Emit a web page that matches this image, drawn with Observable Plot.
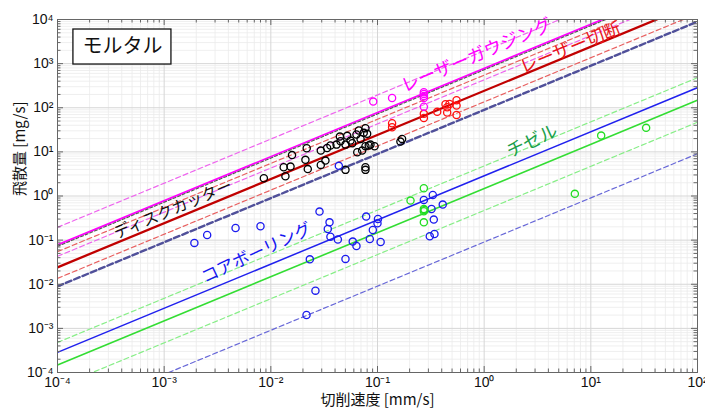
<!DOCTYPE html>
<html><head><meta charset="utf-8">
<script src="https://cdn.jsdelivr.net/npm/d3@7"></script>
<script src="https://cdn.jsdelivr.net/npm/@observablehq/plot@0.6"></script>
<style>
body{margin:0;background:#fff;}
#chart svg{font-family:"Liberation Sans","Noto Sans CJK JP",sans-serif;}
</style>
</head><body><div id="chart"></div>
<script>
// ---- axes ----
const xTicks = [1e-4, 1e-3, 1e-2, 1e-1, 1e0, 1e1, 1e2];
const xTickLabels = ["10⁻⁴", "10⁻³", "10⁻²", "10⁻¹", "10⁰", "10¹", "10²"];
const yTicks = [1e-4, 1e-3, 1e-2, 1e-1, 1e0, 1e1, 1e2, 1e3, 1e4];
const yTickLabels = ["10⁻⁴", "10⁻³", "10⁻²", "10⁻¹", "10⁰", "10¹", "10²", "10³", "10⁴"];
const xLabel = "切削速度 [mm/s]";
const yLabel = "飛散量 [mg/s]";
const panelTitle = "モルタル";

// ---- data (cutting speed [mm/s], scatter amount [mg/s]) ----
const diskX = [0.0086,0.0137,0.0132,0.0153,0.0158,0.0211,0.0222,0.0217,0.0294,0.0325,0.0294,0.0337,0.0362,0.0413,0.0444,0.0450,0.0501,0.0520,0.0559,0.0580,0.0501,0.0646,0.0635,0.0694,0.0771,0.0800,0.0718,0.0771,0.0828,0.0938,0.0771,0.0771,0.0668,0.0743,0.0859,0.170,0.164];
const diskY = [2.52,2.80,4.48,4.64,8.45,6.59,4.07,12.1,5.07,6.35,10.7,12.2,13.9,14.6,22.2,17.4,14.6,23.1,18.0,15.7,3.91,9.80,24.7,19.7,34.3,25.6,10.7,13.4,13.9,13.4,4.48,3.91,30.4,27.0,14.6,19.7,17.1];

const cuttingX = [0.137,0.137,0.272,0.272,0.363,0.450,0.450,0.434,0.473,0.551,0.551,0.551];
const cuttingY = [44.6,36.1,72.8,58.4,80.7,103,77.8,120,122,148,112,68.3];

const gaugingX = [0.0912,0.137,0.272,0.272,0.272,0.272,0.272];
const gaugingY = [138,166,225,205,184,166,106];

const coreX = [0.00192,0.00253,0.00467,0.0080,0.0286,0.0355,0.0342,0.0362,0.0425,0.0232,0.0262,0.0216,0.0501,0.0586,0.0635,0.0783,0.0904,0.0847,0.101,0.100,0.107,0.272,0.330,0.409,0.321,0.337,0.342,0.309,0.0434];
const coreY = [0.0865,0.131,0.189,0.206,0.443,0.253,0.179,0.120,0.103,0.0367,0.00716,0.00201,0.0375,0.0925,0.0738,0.341,0.170,0.106,0.303,0.240,0.091,0.816,1.06,0.638,0.509,0.292,0.138,0.122,4.82];

const chiselX = [0.272,0.204,0.272,0.272,0.276,0.272,12.5,33.0,7.08];
const chiselY = [1.50,0.787,0.509,0.450,0.48,0.253,23.4,35.0,1.12];

// ---- fit / bound lines: value at x=1e-4 and at x=1e2 ----
const lineNames = ["gaugingUpper","gaugingFit","diskFit","cuttingUpper","gaugingLower","cuttingFit","cuttingLower","coreUpper","chiselUpper","coreFit","chiselFit","chiselLower","coreLower"];
const lineYStart = [0.195,0.0778,0.0723,0.0548,0.043,0.0242,0.0136,0.00895,4.8e-4,2.86e-4,1.48e-4,4.7e-5,9.06e-6];
const lineYEnd = [1.95e5,7.78e4,7.23e4,5.48e4,4.3e4,2.42e4,1.36e4,8950,480,286,148,47,9.06];
const lineXStart = 1e-4, lineXEnd = 1e2;

// ---- in-plot labels ----
const labelText = ["レーザーガウジング","レーザー切断","ディスクカッター","コアボーリング","チゼル"];
const labelX = [0.85, 6.44, 1.21e-3, 7.35e-3, 2.82];
const labelY = [1527, 2260, 0.492, 0.0507, 17.3];

// panel title box (data coords)
const boxX = [1.41e-4, 1.17e-3];
const boxY = [954, 5929];

// ---- styles ----
const lineStyle = {
  gaugingUpper: {stroke:"#ee66ee", strokeWidth:1.2, strokeDasharray:"5,3"},
  gaugingFit:   {stroke:"#ff00ff", strokeWidth:1.8},
  diskFit:      {stroke:"#555555", strokeWidth:1.1, strokeDasharray:"3,2"},
  cuttingUpper: {stroke:"#e86060", strokeWidth:1.2, strokeDasharray:"5,3"},
  gaugingLower: {stroke:"#ee66ee", strokeWidth:1.2, strokeDasharray:"5,3"},
  cuttingFit:   {stroke:"#c00000", strokeWidth:2.3},
  cuttingLower: {stroke:"#e86060", strokeWidth:1.2, strokeDasharray:"5,3"},
  coreUpper:    {stroke:"#50509a", strokeWidth:2.4, strokeDasharray:"6,3"},
  chiselUpper:  {stroke:"#88ee88", strokeWidth:1.2, strokeDasharray:"5,3"},
  coreFit:      {stroke:"#2020ee", strokeWidth:1.5},
  chiselFit:    {stroke:"#33dd33", strokeWidth:1.6},
  chiselLower:  {stroke:"#88ee88", strokeWidth:1.2, strokeDasharray:"5,3"},
  coreLower:    {stroke:"#6868d8", strokeWidth:1.2, strokeDasharray:"5,3"}
};
const labelColor = ["#ff00ff","#e8141b","#111111","#1515f0","#1aa04a"];
const labelSize = [18, 18, 16, 17, 18];
const labelRotate = [-23, -22, -23, -25, -25];

const W = 705, H = 410, mL = 57, mR = 8, mT = 19, mB = 38;
const innerH = H - mT - mB, innerW = W - mL - mR;

const minor = (lo, hi) => {
  const out = [];
  for (let e = lo; e < hi; e++) for (let m = 2; m <= 9; m++) out.push(m * Math.pow(10, e));
  return out;
};
const xMinor = minor(-4, 2), yMinor = minor(-4, 4);

const pts = (xs, ys) => xs.map((x, i) => ({x, y: ys[i]}));

const marks = [];
// grid
marks.push(Plot.gridX(xMinor, {stroke:"#ebebeb", strokeOpacity:1, strokeWidth:0.8}));
marks.push(Plot.gridY(yMinor, {stroke:"#ebebeb", strokeOpacity:1, strokeWidth:0.8}));
marks.push(Plot.gridX(xTicks, {stroke:"#d6d6d6", strokeOpacity:1, strokeWidth:1}));
marks.push(Plot.gridY(yTicks, {stroke:"#d6d6d6", strokeOpacity:1, strokeWidth:1}));

// lines
lineNames.forEach((n, i) => {
  marks.push(Plot.line([{x: lineXStart, y: lineYStart[i]}, {x: lineXEnd, y: lineYEnd[i]}],
    {x:"x", y:"y", clip:true, ...lineStyle[n]}));
});

// points
const dotOpts = c => ({x:"x", y:"y", r:3.6, stroke:c, strokeWidth:1.3, fill:"none", clip:true});
marks.push(Plot.dot(pts(diskX, diskY), dotOpts("#000000")));
marks.push(Plot.dot(pts(cuttingX, cuttingY), dotOpts("#ff1010")));
marks.push(Plot.dot(pts(gaugingX, gaugingY), dotOpts("#ff00ff")));
marks.push(Plot.dot(pts(coreX, coreY), dotOpts("#1a1aee")));
marks.push(Plot.dot(pts(chiselX, chiselY), dotOpts("#22dd22")));

// in-plot labels
labelText.forEach((t, i) => {
  marks.push(Plot.text([t], {x: () => labelX[i], y: () => labelY[i], text: d => d,
    rotate: labelRotate[i], fill: labelColor[i], fontSize: labelSize[i],
    fontFamily: "Noto Sans CJK JP"}));
});

// title box
marks.push(Plot.rect([0], {x1: () => boxX[0], x2: () => boxX[1], y1: () => boxY[0], y2: () => boxY[1],
  fill:"#fff", stroke:"#111", strokeWidth:1.3}));
marks.push(Plot.text([panelTitle], {x: () => Math.sqrt(boxX[0]*boxX[1]), y: () => Math.sqrt(boxY[0]*boxY[1]),
  text: d => d, fontSize: 20, fill:"#111", fontFamily:"Noto Sans CJK JP"}));

// inward ticks on all four sides
const tk = "#666";
marks.push(Plot.tickX(xTicks, {x: d => d, stroke: tk, insetTop: innerH - 6}));
marks.push(Plot.tickX(xTicks, {x: d => d, stroke: tk, insetBottom: innerH - 6}));
marks.push(Plot.tickX(xMinor, {x: d => d, stroke: tk, insetTop: innerH - 3.5}));
marks.push(Plot.tickX(xMinor, {x: d => d, stroke: tk, insetBottom: innerH - 3.5}));
marks.push(Plot.tickY(yTicks, {y: d => d, stroke: tk, insetRight: innerW - 6}));
marks.push(Plot.tickY(yTicks, {y: d => d, stroke: tk, insetLeft: innerW - 6}));
marks.push(Plot.tickY(yMinor, {y: d => d, stroke: tk, insetRight: innerW - 3.5}));
marks.push(Plot.tickY(yMinor, {y: d => d, stroke: tk, insetLeft: innerW - 3.5}));
marks.push(Plot.frame({stroke:"#666", strokeWidth:1}));

// axes (labels only)
marks.push(Plot.axisX(xTicks, {anchor:"bottom", tickSize:0, tickPadding:5, fontSize:14, fill:"#111",
  tickFormat: d => xTickLabels[xTicks.indexOf(d)], label:null}));
marks.push(Plot.axisY(yTicks, {anchor:"left", tickSize:0, tickPadding:4, fontSize:14, fill:"#111",
  tickFormat: d => yTickLabels[yTicks.indexOf(d)], label:null}));

// axis titles
marks.push(Plot.text([xLabel], {frameAnchor:"bottom", dy:32, text:d=>d, fontSize:15, fill:"#111", fontFamily:"Noto Sans CJK JP"}));
marks.push(Plot.text([yLabel], {frameAnchor:"left", dx:-37, rotate:-90, text:d=>d, fontSize:15, fill:"#111", fontFamily:"Noto Sans CJK JP"}));

const chart = Plot.plot({
  width: W, height: H,
  marginLeft: mL, marginRight: mR, marginTop: mT, marginBottom: mB,
  x: {type:"log", domain:[1e-4, 1e2], axis:null},
  y: {type:"log", domain:[1e-4, 1e4], axis:null},
  style: {background:"#fff", overflow:"visible"},
  marks
});
document.getElementById("chart").appendChild(chart);
</script>
</body></html>
